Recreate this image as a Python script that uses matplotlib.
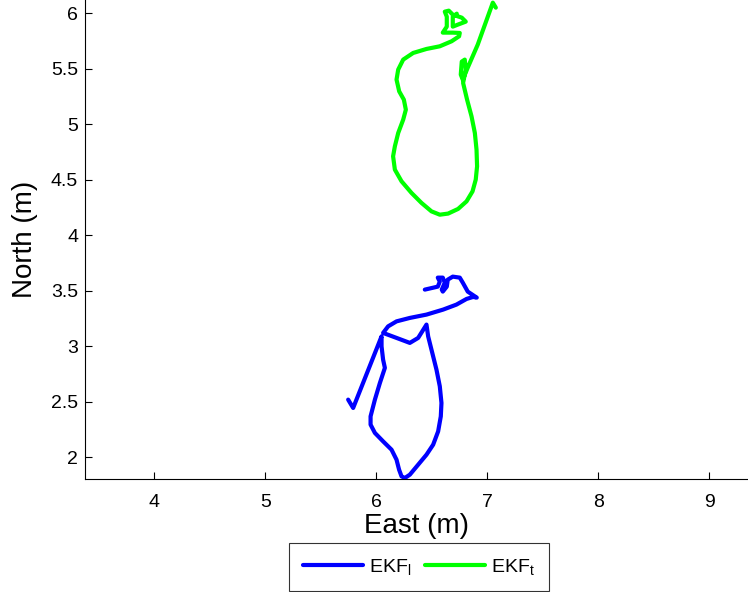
import matplotlib
matplotlib.use("Agg")
import matplotlib.pyplot as plt

plt.rcParams["font.family"] = ["Liberation Sans", "DejaVu Sans"]
plt.rcParams["mathtext.fontset"] = "custom"
plt.rcParams["mathtext.rm"] = "Liberation Sans"
plt.rcParams["mathtext.it"] = "Liberation Sans"

# EKF_l track (East, North) in metres
ekf_l_east = [5.746, 5.791, 6.047, 6.047, 6.061, 6.077, 6.032, 5.987, 5.948, 5.948,
              5.987, 6.061, 6.137, 6.182, 6.205, 6.227, 6.257, 6.302, 6.377, 6.452,
              6.512, 6.557, 6.581, 6.587, 6.572, 6.542, 6.497, 6.467, 6.452, 6.377,
              6.302, 6.182, 6.061, 6.106, 6.182, 6.302, 6.452, 6.602, 6.722, 6.813,
              6.872, 6.905, 6.824, 6.779, 6.752, 6.689, 6.644, 6.635, 6.599, 6.590,
              6.617, 6.599, 6.554, 6.572, 6.554, 6.437]
ekf_l_north = [2.520, 2.445, 3.090, 3.000, 2.880, 2.806, 2.670, 2.520, 2.369, 2.295,
               2.220, 2.144, 2.069, 1.979, 1.889, 1.829, 1.814, 1.844, 1.934, 2.024,
               2.114, 2.234, 2.369, 2.490, 2.640, 2.790, 2.970, 3.090, 3.196, 3.076,
               3.031, 3.076, 3.121, 3.180, 3.225, 3.256, 3.286, 3.331, 3.376, 3.427,
               3.445, 3.439, 3.493, 3.574, 3.619, 3.628, 3.601, 3.538, 3.493, 3.511,
               3.574, 3.619, 3.619, 3.583, 3.538, 3.511]

# EKF_t track (East, North) in metres
ekf_t_east = [7.077, 7.050, 6.914, 6.824, 6.779, 6.761, 6.770, 6.797, 6.806, 6.782,
              6.818, 6.858, 6.888, 6.903, 6.908, 6.896, 6.867, 6.813, 6.737, 6.647,
              6.572, 6.497, 6.407, 6.317, 6.227, 6.167, 6.151, 6.167, 6.197, 6.242,
              6.266, 6.248, 6.206, 6.182, 6.197, 6.242, 6.332, 6.452, 6.572, 6.678,
              6.746, 6.752, 6.689, 6.599, 6.635, 6.635, 6.617, 6.653, 6.689, 6.770,
              6.806, 6.734, 6.689, 6.689, 6.725]
ekf_t_north = [6.051, 6.096, 5.718, 5.511, 5.402, 5.448, 5.565, 5.583, 5.493, 5.373,
               5.222, 5.072, 4.922, 4.772, 4.622, 4.502, 4.396, 4.306, 4.238, 4.196,
               4.186, 4.216, 4.292, 4.382, 4.487, 4.592, 4.712, 4.802, 4.922, 5.042,
               5.132, 5.222, 5.297, 5.403, 5.493, 5.583, 5.643, 5.679, 5.703, 5.748,
               5.793, 5.823, 5.826, 5.826, 5.880, 5.970, 6.015, 6.024, 5.988, 5.961,
               5.925, 5.898, 5.880, 5.970, 5.997]

x_ticks = [4, 5, 6, 7, 8, 9]
y_ticks = [2, 2.5, 3, 3.5, 4, 4.5, 5, 5.5, 6]
y_tick_labels = ["2", "2.5", "3", "3.5", "4", "4.5", "5", "5.5", "6"]

fig = plt.figure(figsize=(7.48, 5.92), dpi=100)
ax = fig.add_axes([85 / 748, 113 / 592, 663 / 748, 479 / 592])

line_style = dict(lw=3, solid_capstyle="round", solid_joinstyle="round")
ax.plot(ekf_l_east, ekf_l_north, color=(0, 0, 1), label=r"EKF$_\mathrm{l}$", **line_style)
ax.plot(ekf_t_east, ekf_t_north, color=(0, 1, 0), label=r"EKF$_\mathrm{t}$", **line_style)

ax.set_xlim(3.374, 9.35)
ax.set_ylim(1.805, 6.12)
ax.set_xticks(x_ticks)
ax.set_yticks(y_ticks)
ax.set_yticklabels(y_tick_labels)
ax.tick_params(direction="in", length=5, width=0.8, labelsize=14)
ax.tick_params(axis="x", pad=11)
ax.tick_params(axis="y", pad=5)
ax.spines["top"].set_visible(False)
ax.spines["right"].set_visible(False)

ax.set_xlabel("East (m)", fontsize=20, labelpad=1)
ax.set_ylabel("North (m)", fontsize=20, labelpad=9)

leg = fig.legend(loc="upper center", bbox_to_anchor=(0.56, 0.083), ncol=2,
                 fontsize=14, frameon=True, fancybox=False, edgecolor="black",
                 handlelength=3.1, handletextpad=0.3, columnspacing=0.7,
                 borderpad=0.72, borderaxespad=0)
leg.get_frame().set_linewidth(0.8)

fig.savefig("out.png", dpi=100)
